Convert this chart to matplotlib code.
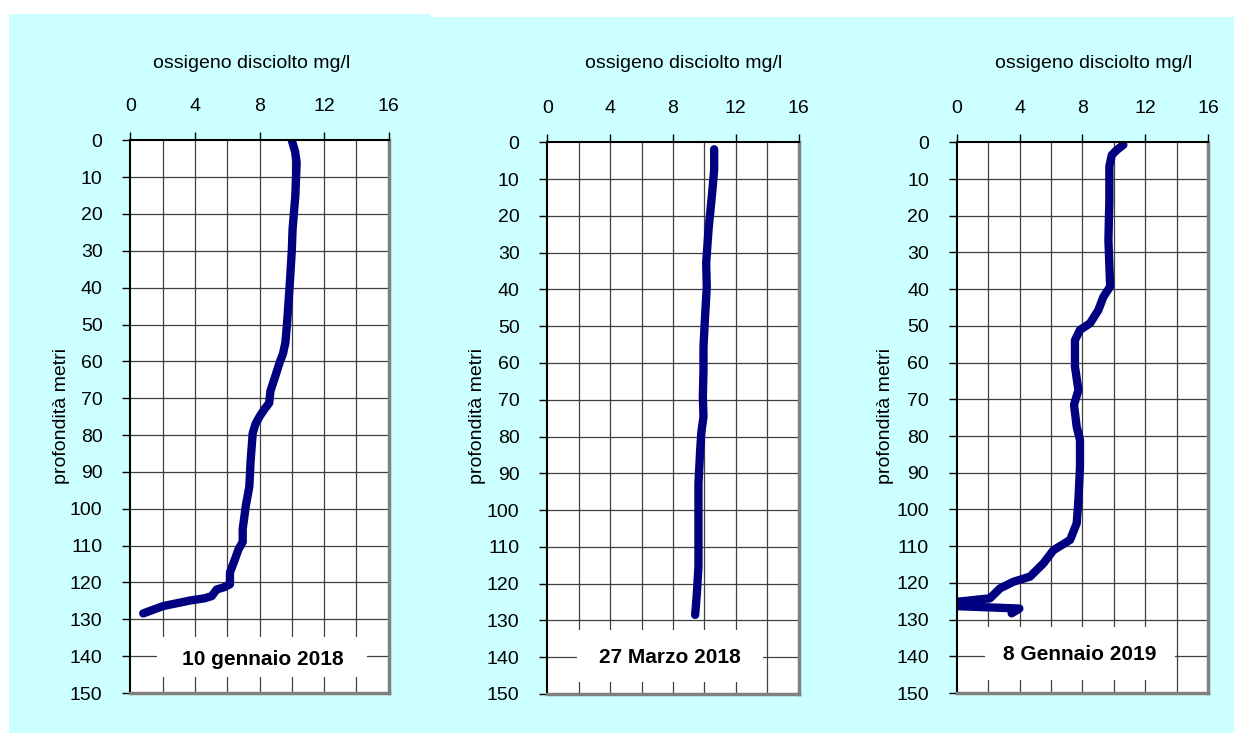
import matplotlib
matplotlib.use("Agg")
import matplotlib.pyplot as plt
from matplotlib.patches import Rectangle

plt.rcParams['font.family'] = ['Liberation Sans', 'DejaVu Sans']

# --- data: dissolved oxygen (mg/l) against depth (m) ---
depth_2018_01 = [0, 3, 6, 15, 24, 30, 40, 50, 55, 58, 60, 64, 68, 71.3, 73, 75, 77, 79.5, 87, 94,
                 99, 105.5, 109, 111, 113.7, 117.3, 120.5, 121.3, 121.9, 123.7, 124.3, 124.9,
                 126.4, 128.4]
oxygen_2018_01 = [10.0, 10.2, 10.3, 10.22, 10.05, 10.0, 9.86, 9.7, 9.6, 9.45, 9.27, 8.98, 8.68,
                  8.6, 8.3, 8.0, 7.75, 7.58, 7.45, 7.37, 7.16, 6.96, 6.96, 6.7, 6.48, 6.17, 6.17,
                  5.8, 5.35, 5.04, 4.6, 3.7, 2.04, 0.8]

depth_2018_03 = [1.9, 7.5, 14.8, 23.8, 32.9, 39.2, 47.4, 55.6, 61.9, 69.2, 74.6, 79, 83.7, 92.7,
                 106.3, 115.4, 122.6, 128.5]
oxygen_2018_03 = [10.62, 10.62, 10.47, 10.26, 10.11, 10.15, 10.04, 9.94, 9.94, 9.9, 9.94, 9.8,
                  9.73, 9.62, 9.62, 9.62, 9.52, 9.41]

depth_2019_01 = [0.7, 2.1, 3.5, 6.6, 15.7, 26.6, 39.3, 42.1, 45.7, 49.3, 51.1, 53.9, 61.1, 67.5,
                 71.5, 77.5, 81.1, 88.4, 97.4, 103.8, 108.3, 111.1, 114.7, 118.3, 119.7, 121.5,
                 124.2, 125.3, 126.3, 126.9, 127.0, 128.3]
oxygen_2019_01 = [10.61, 10.19, 9.87, 9.72, 9.72, 9.66, 9.77, 9.34, 9.02, 8.49, 7.85, 7.53, 7.53,
                  7.75, 7.47, 7.64, 7.85, 7.85, 7.75, 7.64, 7.22, 6.16, 5.52, 4.67, 3.61, 2.76,
                  2.12, -0.3, -0.3, 3.4, 3.99, 3.5]

survey_labels = ["10 gennaio 2018", "27 Marzo 2018", "8 Gennaio 2019"]
x_title = "ossigeno disciolto mg/l"
y_title = "profondità metri"
x_ticks = [0, 4, 8, 12, 16]
y_ticks = list(range(0, 151, 10))

profiles = [(oxygen_2018_01, depth_2018_01),
            (oxygen_2018_03, depth_2018_03),
            (oxygen_2019_01, depth_2019_01)]

W, H = 1234, 733
BG = "#CCFFFF"
LINE = "#000080"

fig = plt.figure(figsize=(W / 100, H / 100), dpi=100, facecolor="white")

# cyan backdrop (two slabs with a small step along the top edge)
fig.patches.append(Rectangle((9 / W, 0), (430 - 9) / W, 1 - 14 / H, transform=fig.transFigure,
                             facecolor=BG, edgecolor="none", zorder=-10))
fig.patches.append(Rectangle((430 / W, 0), (W - 430) / W, 1 - 17 / H, transform=fig.transFigure,
                             facecolor=BG, edgecolor="none", zorder=-10))

# axes boxes in pixels: left, right, top, bottom
boxes = [(130.3, 388.7, 140.3, 693.0),
         (547.3, 798.7, 142.3, 694.0),
         (956.7, 1208.0, 142.3, 693.0)]
# white label boxes in data units: x0, x1, depth0, depth1 ; text centre x, depth
label_boxes = [(1.65, 14.66, 134.9, 145.7, 8.2, 141.0),
               (1.87, 13.74, 132.6, 146.7, 7.8, 140.0),
               (1.8, 13.9, 132.0, 146.5, 7.8, 139.5)]
title_x = [252, 684, 1094]
ylabel_x = [62, 478, 886]

for (xs, ds), (l, r, t, b), lb, lab, tx, yx in zip(profiles, boxes, label_boxes,
                                                    survey_labels, title_x, ylabel_x):
    ax = fig.add_axes([l / W, 1 - b / H, (r - l) / W, (b - t) / H])
    ax.set_facecolor("white")
    ax.set_xlim(0, 16)
    ax.set_ylim(150, 0)

    # grid
    for gx in range(2, 16, 2):
        ax.axvline(gx, color="#404040", lw=0.9, zorder=1)
    for gy in range(10, 150, 10):
        ax.axhline(gy, color="#404040", lw=0.9, zorder=1)

    ax.plot(xs, ds, color=LINE, lw=6.0, solid_capstyle="round", solid_joinstyle="round",
            zorder=3)

    x0, x1, d0, d1, cx, cd = lb
    ax.add_patch(Rectangle((x0, d0), x1 - x0, d1 - d0, facecolor="white", edgecolor="none",
                           zorder=2))
    ax.text(cx, cd, lab, ha="center", va="center", fontsize=15, fontweight="bold",
            color="black", zorder=4)

    ax.xaxis.set_ticks_position("top")
    ax.set_xticks(x_ticks)
    ax.set_yticks(y_ticks)
    ax.tick_params(axis="x", direction="out", length=6, width=1, pad=12, labelsize=14,
                   colors="black")
    ax.tick_params(axis="y", direction="out", length=6, width=1, pad=14, labelsize=14,
                   colors="black")

    for side in ("left", "top"):
        ax.spines[side].set_color("black")
        ax.spines[side].set_linewidth(1.5)
        ax.spines[side].set_zorder(5)
    for side in ("right", "bottom"):
        ax.spines[side].set_color("#808080")
        ax.spines[side].set_linewidth(2.5)
        ax.spines[side].set_zorder(5)

    fig.text(tx / W, 1 - 63 / H, x_title, ha="center", va="center", fontsize=14)
    fig.text(yx / W, 1 - 416 / H, y_title, ha="center", va="center", rotation=90, fontsize=14)

fig.savefig("out.png", dpi=100, facecolor=fig.get_facecolor())
